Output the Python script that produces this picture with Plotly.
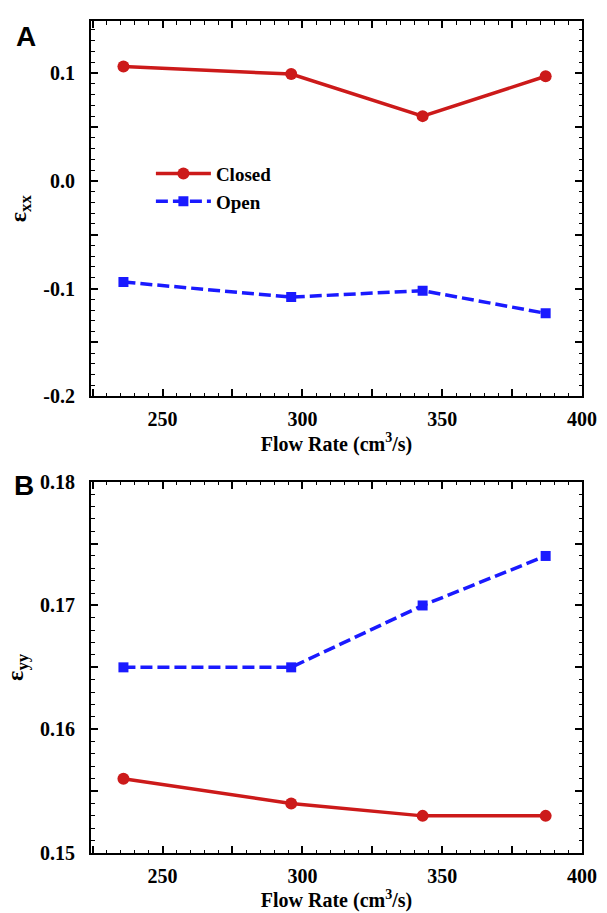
import plotly.graph_objects as go

flow_rate = [236, 296, 343, 387]
exx_closed = [0.106, 0.099, 0.060, 0.097]
exx_open = [-0.094, -0.108, -0.102, -0.123]
eyy_closed = [0.156, 0.154, 0.153, 0.153]
eyy_open = [0.165, 0.165, 0.170, 0.174]

x_tickvals = [225, 250, 275, 300, 325, 350, 375, 400]
x_ticktext = ["", "250", "", "300", "", "350", "", "400"]
ya_tickvals = [-0.2, -0.15, -0.1, -0.05, 0.0, 0.05, 0.1]
ya_ticktext = ["-0.2", "", "-0.1", "", "0.0", "", "0.1"]
yb_tickvals = [0.15, 0.155, 0.16, 0.165, 0.17, 0.175, 0.18]
yb_ticktext = ["0.15", "", "0.16", "", "0.17", "", "0.18"]

RED = "#cc1a1a"
BLUE = "#1a1aff"
SERIF = "Liberation Serif"
DASH = "12px,5px"

W, H = 607, 913
ML, MR, MT, MB = 91, 16, 10, 56

fig = go.Figure()
fig.add_trace(go.Scatter(x=flow_rate, y=exx_closed, name="Closed", mode="lines+markers",
                         line=dict(color=RED, width=3.5), marker=dict(symbol="circle", size=12, color=RED),
                         xaxis="x", yaxis="y"))
fig.add_trace(go.Scatter(x=flow_rate, y=exx_open, name="Open", mode="lines+markers",
                         line=dict(color=BLUE, width=3.5, dash=DASH), marker=dict(symbol="square", size=10, color=BLUE),
                         xaxis="x", yaxis="y"))
fig.add_trace(go.Scatter(x=flow_rate, y=eyy_closed, name="Closed", mode="lines+markers", showlegend=False,
                         line=dict(color=RED, width=3.5), marker=dict(symbol="circle", size=12, color=RED),
                         xaxis="x2", yaxis="y2"))
fig.add_trace(go.Scatter(x=flow_rate, y=eyy_open, name="Open", mode="lines+markers", showlegend=False,
                         line=dict(color=BLUE, width=3.5, dash=DASH), marker=dict(symbol="square", size=10, color=BLUE),
                         xaxis="x2", yaxis="y2"))

tickfont = dict(family=SERIF, size=20, color="black", weight="bold")
titlefont = dict(family=SERIF, size=20, color="black", weight="bold")
ytitlefont = dict(family=SERIF, size=24, color="black", weight="bold")

def make_xaxis(anchor):
    return dict(anchor=anchor, range=[224.4, 400], tickvals=x_tickvals, ticktext=x_ticktext,
                ticks="inside", ticklen=7, tickwidth=1.5, tickcolor="black",
                minor=dict(dtick=5, tick0=225, ticks="inside", ticklen=3.5, tickwidth=1.2, tickcolor="black"),
                showline=True, linecolor="black", linewidth=2, mirror="ticks",
                showgrid=False, zeroline=False, tickfont=tickfont, ticklabelstandoff=4,
                title=dict(text="Flow Rate (cm<sup>3</sup>/s)", font=titlefont, standoff=2))

def make_yaxis(domain, rng, tv, tt, minor_dtick, title):
    return dict(domain=domain, range=rng, tickvals=tv, ticktext=tt,
                ticks="inside", ticklen=7, tickwidth=1.5, tickcolor="black",
                minor=dict(dtick=minor_dtick, tick0=0.15, ticks="inside", ticklen=3.5, tickwidth=1.2, tickcolor="black"),
                showline=True, linecolor="black", linewidth=2, mirror="ticks",
                showgrid=False, zeroline=False, tickfont=tickfont, ticklabelstandoff=10,
                title=dict(text=title, font=ytitlefont, standoff=10))

plot_w = W - ML - MR
plot_h = H - MT - MB

def py2paper(py):
    return (H - MB - py) / plot_h

def px2paper(px):
    return (px - ML) / plot_w

fig.update_layout(
    width=W, height=H,
    paper_bgcolor="white", plot_bgcolor="white",
    margin=dict(l=ML, r=MR, t=MT, b=MB),
    xaxis=make_xaxis("y"),
    xaxis2=make_xaxis("y2"),
    yaxis=make_yaxis([py2paper(392), 1.0], [-0.2, 0.1483], ya_tickvals, ya_ticktext, 0.01, "ε<sub>xx</sub>"),
    yaxis2=make_yaxis([0.0, py2paper(479)], [0.15, 0.18], yb_tickvals, yb_ticktext, 0.001, "ε<sub>yy</sub>"),
    legend=dict(x=px2paper(152), y=py2paper(146), xanchor="left", yanchor="top", bgcolor="rgba(0,0,0,0)",
                font=dict(family=SERIF, size=19, color="black", weight="bold"), itemwidth=55,
                tracegroupgap=0),
    showlegend=True,
    annotations=[
        dict(text=label, x=px2paper(px), y=py2paper(py), xref="paper", yref="paper", showarrow=False,
             xanchor="center", yanchor="middle",
             font=dict(family="Liberation Sans", size=28, color="black", weight="bold"))
        for label, px, py in [("A", 25, 26), ("B", 23, 483)]
    ],
)

post = (
    "document.documentElement.style.margin='0';"
    "document.documentElement.style.overflow='hidden';"
    "document.body.style.margin='0';"
    "document.body.style.overflow='hidden';"
    "var d=document.getElementById('{plot_id}');"
    "d.style.position='fixed';d.style.top='0px';d.style.left='0px';"
)
fig.write_html("out.html", post_script=post, config={"displayModeBar": False})
